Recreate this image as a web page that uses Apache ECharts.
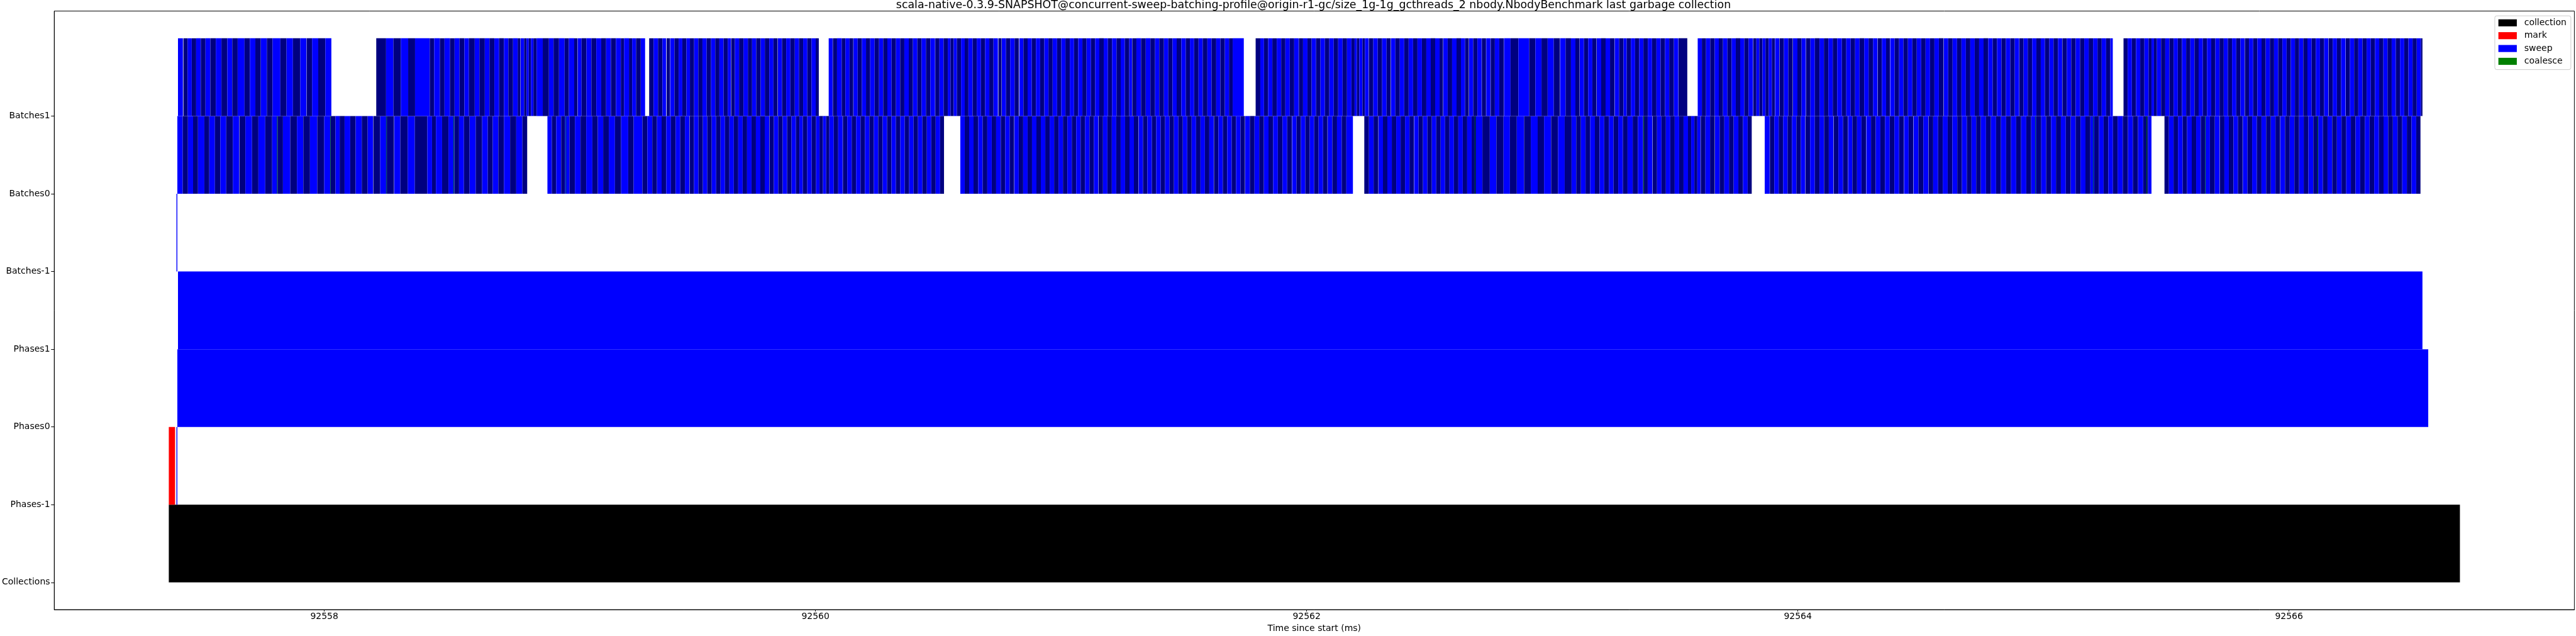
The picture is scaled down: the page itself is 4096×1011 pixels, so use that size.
<!DOCTYPE html>
<html>
<head>
<meta charset="utf-8">
<script src="https://cdn.jsdelivr.net/npm/echarts@6/dist/echarts.min.js"></script>
<style>
html,body{margin:0;padding:0;background:#fff;}
#chart{width:4096px;height:1011px;}
</style>
</head>
<body>
<div id="chart"></div>
<script>
// ---------------- data ----------------
const titleText = 'scala-native-0.3.9-SNAPSHOT@concurrent-sweep-batching-profile@origin-r1-gc/size_1g-1g_gcthreads_2 nbody.NbodyBenchmark last garbage collection';
const categories = ['Collections', 'Phases-1', 'Phases0', 'Phases1', 'Batches-1', 'Batches0', 'Batches1'];
const yTickValues = [0, 1, 2, 3, 4, 5, 6];
const xTickValues = [92558, 92560, 92562, 92564, 92566];
const xMin = 92556.9003, xMax = 92567.1620;
const yMin = -0.35, yMax = 7.35;

// [start ms, end ms, row]
const collectionBars = [[92557.3668, 92566.696, 0]];
const markBars = [[92557.3668, 92557.3923, 1]];
const sweepPhaseBars = [
  [92557.3980, 92557.4016, 1],
  [92557.4016, 92566.567, 2],
  [92557.4042, 92566.5434, 3],
  [92557.3980, 92557.4016, 4]
];

// Batches1 row (row 6): segment starts / ends (ms) and batch widths (µs, negative = gap)
const batches1SegStart = [92557.4042, 92558.2115, 92559.3228, 92560.0538, 92561.7923, 92563.5923, 92565.3262];
const batches1SegEnd   = [92558.0287, 92559.3062, 92560.0135, 92561.7441, 92563.5499, 92565.2825, 92566.5434];
const batches1Widths = [
  [20,-2,17,17,18,19,19,20,22,23,24,20,22,28,22,22,22,25,23,32,25,26,30,25,-1,22,25,29,23],
  [40,30,30,30,28,60,18,23,19,22,19,20,20,18,24,19,22,19,20,19,20,18,19,19,11,-1,14,10,9,9,10,13,25,25,19,22,23,17,22,13,-1,16,20,20,20,20,20,20,20,20,13,20,13,16,19,15],
  [18,18,18,15,-2,14,-1,17,17,15,17,14,17,17,17,17,18,17,17,17,17,13,-1,15,17,18,18,17,17,18,17,18,17,17,-1,17,17,17,18,17,17,17,17,17,17],
  [16,-1,17,19,15,17,15,-1,17,17,17,17,18,18,17,17,17,18,17,17,18,17,18,17,18,18,19,-1,17,17,17,11,13,13,17,15,15,17,17,17,17,17,17,18,-2,13,-1,17,17,18,17,-2,17,17,17,17,17,17,17,17,18,17,17,18,17,17,17,17,18,17,17,18,17,17,18,17,17,18,11,-1,17,19,19,19,19,17,19,18,17,17,19,18,17,17,18,17,19,17,19,17,18,17,15,17],
  [19,15,17,17,18,18,17,18,18,18,-1,17,18,17,18,18,18,18,18,18,18,18,18,13,9,10,13,10,15,-1,18,18,18,18,17,-1,18,18,18,18,18,18,18,18,18,18,18,14,-1,18,18,18,18,17,15,-1,17,17,17,-1,17,-1,17,-1,17,18,18,-1,27,32,44,25,25,25,25,25,-1,22,22,18,17,-1,17,17,17,17,-1,18,18,18,18,-1,18,18,13,17,17,17,17,18,17,18,17,18,17,19,18,-1,15],
  [17,17,17,18,17,17,18,17,17,18,17,17,18,-1,13,12,13,12,13,13,12,-1,17,-1,18,18,18,-1,18,17,17,-1,18,18,19,18,18,18,18,19,18,18,18,18,19,18,18,18,-1,17,17,16,-1,18,18,18,18,18,18,18,18,18,18,18,19,-1,18,18,18,18,18,18,18,18,18,19,18,18,18,18,18,18,18,-1,17,17,18,17,18,17,18,17,18,17,-1,18,18,18,18,17,18,18,18,17,18,17,17],
  [17,17,17,17,17,17,12,10,12,17,17,17,17,17,17,17,17,17,17,17,17,17,17,17,17,17,17,17,17,17,-1,17,17,17,17,17,17,17,17,17,17,17,17,17,17,17,17,17,17,17,17,-1,17,17,17,18,-1,17,17,17,17,17,17,17,17,17,17,17,17,17,17,17,17,17,17,8]
];

// Batches0 row (row 5)
const batches0SegStart = [92557.4016, 92558.9085, 92560.5897, 92562.2347, 92563.8652, 92565.4930];
const batches0SegEnd   = [92558.8261, 92560.5234, 92562.1884, 92563.8123, 92565.4400, 92566.5354];
const batches0Widths = [
  [22,21,21,20,26,20,23,22,24,27,26,-1,24,27,26,28,28,22,22,30,27,26,27,30,28,26,20,17,20,23,22,25,24,22,-1,28,27,29,-1,25,30,29,51,19,16,25,26,24,19,20,23,25,26,23,20,23,23,25,25,25,23],
  [18,18,20,15,19,22,23,23,25,22,22,23,25,25,29,22,36,20,20,19,19,19,19,19,19,19,18,-1,18,18,18,18,18,18,18,18,18,18,18,18,18,18,18,18,18,18,-1,18,18,18,18,18,18,14,14,18,18,18,14,14,13,13,18,18,18,-1,18,18,18,18,18,18,18,18,18,18,18,18,18,18,18,18,18,18,18,18,18,18,18],
  [18,18,18,19,18,19,18,18,19,18,18,18,-1,18,18,18,18,18,18,18,18,18,18,18,18,18,18,18,18,18,18,18,-1,18,18,18,18,18,18,18,18,18,-1,18,18,18,18,18,18,18,18,18,18,18,18,18,18,18,18,18,-1,18,18,18,18,18,18,18,-1,19,19,19,19,19,19,19,19,19,19,-1,18,18,18,18,18,18,18,18,-1,19,19,19,19,19],
  [19,19,19,-1,18,18,18,18,18,18,18,18,-1,18,18,18,18,18,18,18,18,18,18,18,18,18,18,26,30,27,29,26,28,30,27,28,26,29,28,27,28,19,19,19,19,19,19,19,19,19,19,19,19,21,21,21,19,19,-1,18,18,18,18,18,18,18,18,13,13,12,13,-1,19,19,19,-1,19,19,19,19,19,19,19,19],
  [20,-1,18,18,18,18,18,18,18,18,-1,19,19,19,19,19,19,-1,19,19,19,-1,18,19,18,19,-1,19,19,19,19,19,19,19,19,-1,19,19,-1,20,20,20,-1,19,20,19,20,19,20,19,20,19,19,19,21,20,21,20,21,20,21,20,21,20,21,20,20,20,20,20,20,20,20,20,20,20,16,19,19,19,19,19,21,21,20,21,21,20,20],
  [18,19,18,19,18,19,18,19,18,19,20,19,-1,19,18,19,18,19,-1,19,19,19,19,19,19,19,19,-1,19,19,19,19,19,19,20,20,19,19,19,19,19,19,19,19,19,19,19,19,19,19,19,19,19,19,19,19,19,19]
];

// coalesce events [time ms, row]
const coalesceEvents = [
  [92557.8074, 5], [92558.0237, 5], [92558.2514, 5], [92558.5257, 5], [92558.9830, 5],
  [92562.6842, 5], [92563.3722, 5], [92564.9668, 5], [92565.2025, 5], [92565.4199, 5],
  [92565.6587, 5], [92566.1162, 5]
];
const coalesceWidthMs = 0.0013;

// ---------------- build ----------------
const BLUE = '#0000ff', NAVY = '#000080';
function buildBatches(starts, ends, widths, row) {
  const out = [];
  let shade = 0;
  for (let s = 0; s < starts.length; s++) {
    let t = starts[s];
    const segEnd = ends[s];
    let lastIdx = -1;
    for (const w of widths[s]) {
      if (w < 0) { t += -w / 1000; continue; }
      if (t >= segEnd) break;
      const e = Math.min(t + w / 1000, segEnd);
      out.push([t, e, row, shade]);
      lastIdx = out.length - 1;
      shade = 1 - shade;
      t = e;
    }
    if (lastIdx >= 0 && out[lastIdx][1] < segEnd) out[lastIdx][1] = segEnd;
  }
  return out;
}
const sweepData = sweepPhaseBars.map(b => [b[0], b[1], b[2], 0])
  .concat(buildBatches(batches0SegStart, batches0SegEnd, batches0Widths, 5))
  .concat(buildBatches(batches1SegStart, batches1SegEnd, batches1Widths, 6));
const coalesceData = coalesceEvents.map(c => [c[0], c[0] + coalesceWidthMs, c[1]]);

function makeRender(colorFn) {
  return function (params, api) {
    const s = api.value(0), e = api.value(1), r = api.value(2);
    const p0 = api.coord([s, r]);
    const p1 = api.coord([e, r + 1]);
    return {
      type: 'rect',
      shape: { x: p0[0], y: p1[1], width: Math.max(p1[0] - p0[0], 0.7), height: p0[1] - p1[1] },
      style: { fill: colorFn(api) }
    };
  };
}

const FONT = 'DejaVu Sans';
const chart = echarts.init(document.getElementById('chart'), null, { renderer: 'canvas' });
chart.setOption({
  animation: false,
  backgroundColor: '#ffffff',
  title: {
    text: titleText,
    left: 2088.5, top: 0, padding: 0, textAlign: 'center',
    textStyle: { fontFamily: FONT, fontSize: 17.4, fontWeight: 'normal', color: '#000' }
  },
  legend: {
    orient: 'vertical',
    left: 3966.9, top: 25.2,
    padding: [4.1, 7, 6.1, 5.7],
    itemWidth: 29.3, itemHeight: 11.2, itemGap: 6.4,
    icon: 'rect',
    backgroundColor: 'rgba(255,255,255,0.8)',
    borderColor: '#cccccc', borderWidth: 1, borderRadius: 3,
    textStyle: { fontFamily: FONT, fontSize: 14, color: '#000', padding: [0, 0, 0, 6.8] },
    data: ['collection', 'mark', 'sweep', 'coalesce']
  },
  grid: { left: 83.6, right: 2.6, top: 17.6, bottom: 36.8, show: true, borderColor: '#000', borderWidth: 1, containLabel: false },
  xAxis: {
    type: 'value', min: xMin, max: xMax,
    name: 'Time since start (ms)', nameLocation: 'middle', nameGap: 20.6,
    nameTextStyle: { fontFamily: FONT, fontSize: 14, color: '#000' },
    axisLine: { show: true, onZero: false, lineStyle: { color: '#000', width: 1 } },
    axisTick: { show: true, length: 3, lineStyle: { color: '#000' }, customValues: xTickValues },
    axisLabel: { fontFamily: FONT, fontSize: 14, color: '#000', margin: 4, customValues: xTickValues,
      formatter: v => String(Math.round(v)) },
    splitLine: { show: false }
  },
  yAxis: {
    type: 'value', min: yMin, max: yMax,
    axisLine: { show: true, onZero: false, lineStyle: { color: '#000', width: 1 } },
    axisTick: { show: true, length: 5, lineStyle: { color: '#000' }, customValues: yTickValues },
    axisLabel: { fontFamily: FONT, fontSize: 14, color: '#000', margin: 6.7, customValues: yTickValues,
      formatter: v => categories[Math.round(v)] },
    splitLine: { show: false }
  },
  series: [
    { name: 'collection', type: 'custom', itemStyle: { color: '#000000' }, data: collectionBars,
      encode: { x: [0, 1], y: 2 }, renderItem: makeRender(() => '#000000'), progressive: 0 },
    { name: 'mark', type: 'custom', itemStyle: { color: '#ff0000' }, data: markBars,
      encode: { x: [0, 1], y: 2 }, renderItem: makeRender(() => '#ff0000'), progressive: 0 },
    { name: 'sweep', type: 'custom', itemStyle: { color: BLUE }, data: sweepData,
      encode: { x: [0, 1], y: 2 }, renderItem: makeRender(api => api.value(3) ? NAVY : BLUE), progressive: 0 },
    { name: 'coalesce', type: 'custom', itemStyle: { color: '#008000' }, data: coalesceData,
      encode: { x: [0, 1], y: 2 }, renderItem: makeRender(() => '#008000'), progressive: 0 }
  ]
});
</script>
</body>
</html>
